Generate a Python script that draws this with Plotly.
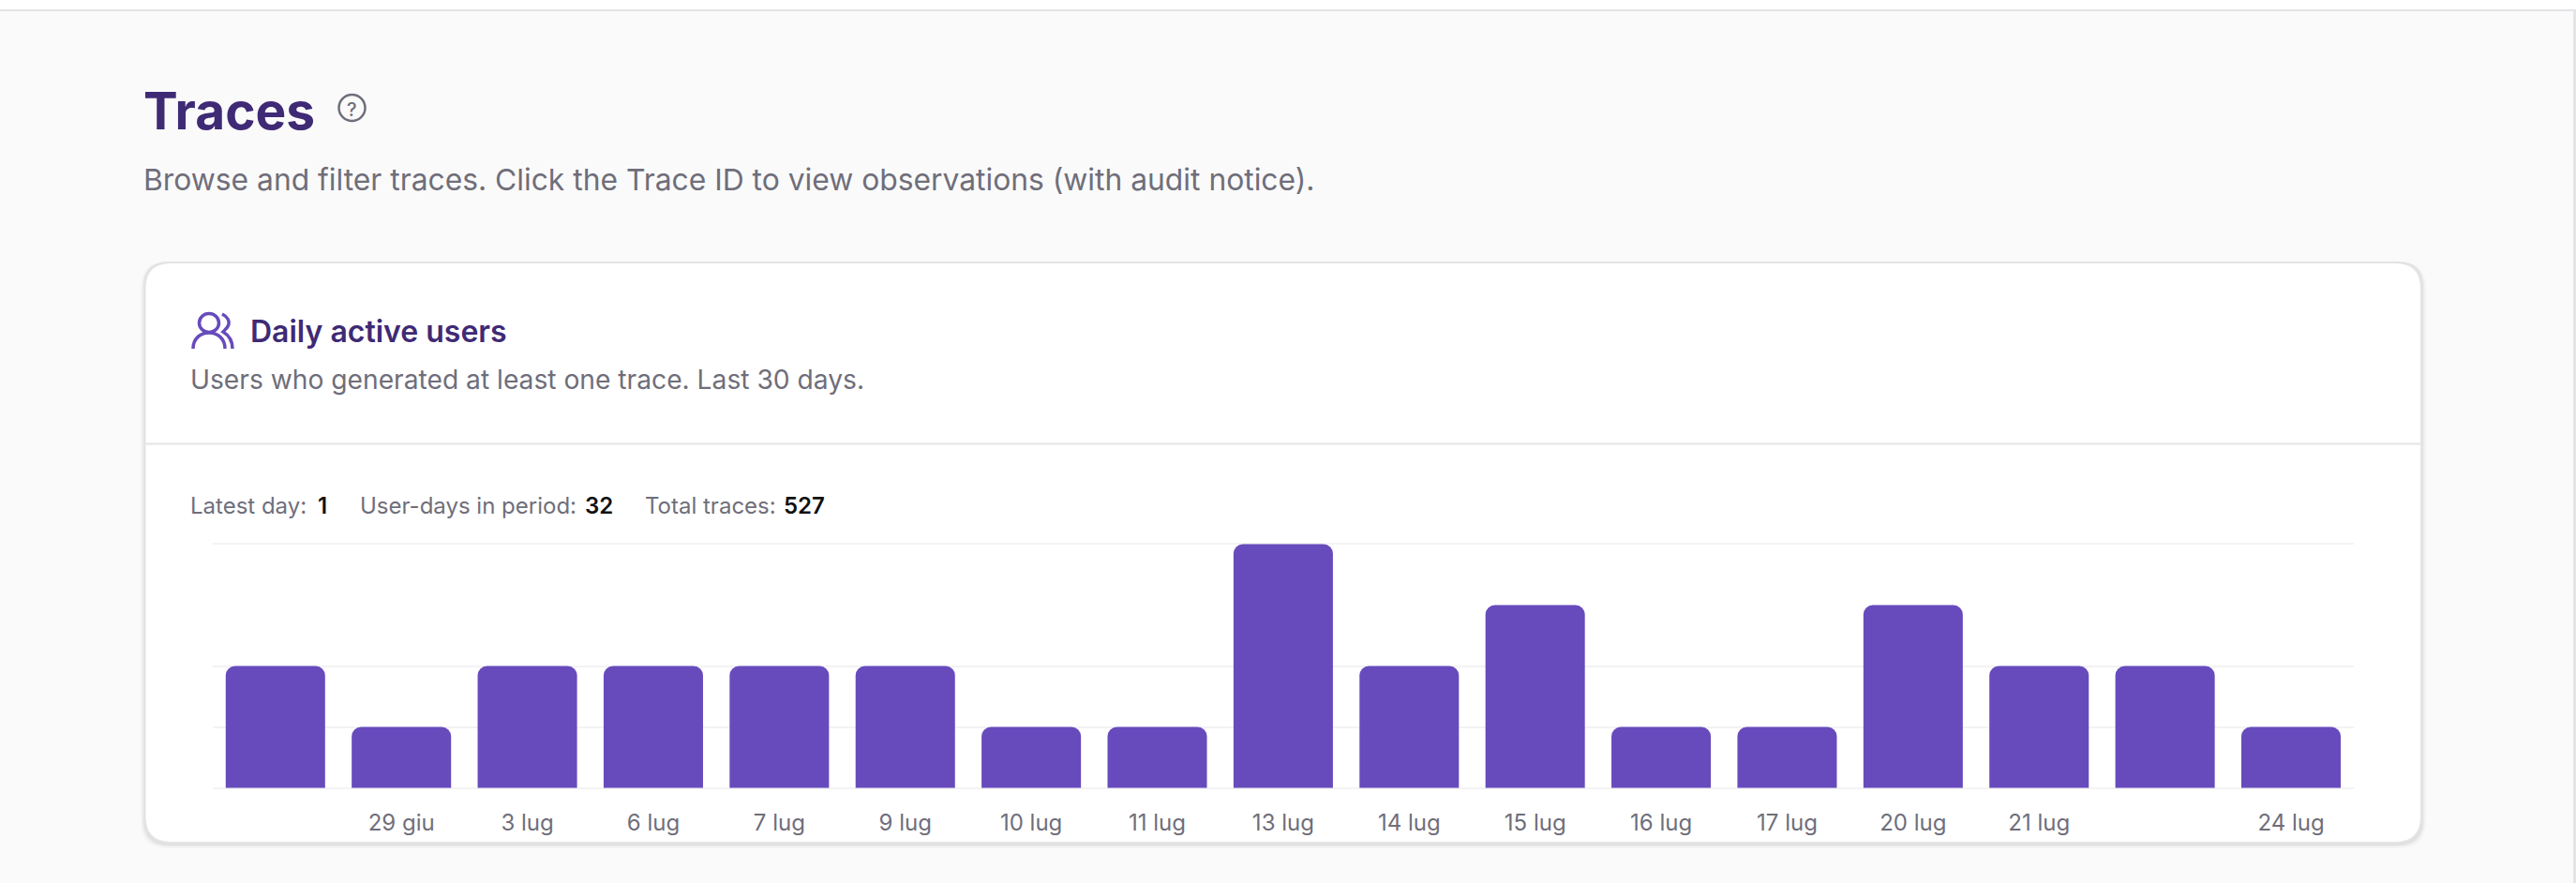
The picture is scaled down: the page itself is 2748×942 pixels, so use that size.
import plotly.graph_objects as go

W, H = 2748, 942

# ── Data ───────────────────────────────────────────────────────────────────────
days = ["", "29 giu", "3 lug", "6 lug", "7 lug", "9 lug", "10 lug", "11 lug", "13 lug",
        "14 lug", "15 lug", "16 lug", "17 lug", "20 lug", "21 lug", "", "24 lug"]
active_users = [2, 1, 2, 2, 2, 2, 1, 1, 4, 2, 3, 1, 1, 3, 2, 2, 1]
y_ticks = [0, 1, 2, 4]

FONT = "Inter"
PURPLE = "#674bbc"
DARK = "#3f2a75"
GREY = "#6f6e7a"
BORDER = "#e4e4e7"
GRID = "#f3f3f4"


def fx(x):
    return x / W


def fy(y):
    return 1 - y / H


def page_path(d):
    """Turn [cmd, x, y, x, y, ...] pixel lists into a paper-coordinate SVG path."""
    out = []
    for seg in d:
        cmd, nums = seg[0], seg[1:]
        pts = [f"{fx(nums[i]):.6f},{fy(nums[i + 1]):.6f}" for i in range(0, len(nums), 2)]
        out.append(cmd + " ".join(pts))
    return " ".join(out)


def round_rect(x0, y0, x1, y1, r):
    return page_path([
        ["M", x0 + r, y0], ["L", x1 - r, y0], ["Q", x1, y0, x1, y0 + r],
        ["L", x1, y1 - r], ["Q", x1, y1, x1 - r, y1], ["L", x0 + r, y1],
        ["Q", x0, y1, x0, y1 - r], ["L", x0, y0 + r], ["Q", x0, y0, x0 + r, y0],
    ]) + " Z"


shapes = []


def add_rect(x0, y0, x1, y1, color):
    shapes.append(dict(type="rect", xref="paper", yref="paper", layer="below",
                       x0=fx(x0), x1=fx(x1), y0=fy(y0), y1=fy(y1),
                       fillcolor=color, line_width=0))


def add_stroke(d, color, width):
    shapes.append(dict(type="path", xref="paper", yref="paper", layer="below", path=d,
                       line=dict(color=color, width=width), fillcolor="rgba(0,0,0,0)"))


# page chrome
add_rect(0, 0, W, 10, "#ffffff")
add_rect(0, 10, W, 12, BORDER)
add_rect(2745, 10, 2748, H, BORDER)

# card, soft shadow first
for grow, alpha in [(5, 0.02), (3.5, 0.03), (2, 0.05)]:
    shapes.append(dict(type="path", xref="paper", yref="paper", layer="below",
                       path=round_rect(154 - grow + 1, 279, 2584 + grow - 1, 900 + grow, 28),
                       fillcolor=f"rgba(0,0,0,{alpha})", line_width=0))
shapes.append(dict(type="path", xref="paper", yref="paper", layer="below",
                   path=round_rect(154.5, 280, 2583, 899, 28), fillcolor="#ffffff",
                   line=dict(color=BORDER, width=2)))
add_rect(155.5, 472.5, 2582, 474.5, BORDER)

# help icon
shapes.append(dict(type="circle", xref="paper", yref="paper", layer="below",
                   x0=fx(361.5), x1=fx(389.5), y0=fy(101), y1=fy(129),
                   line=dict(color=GREY, width=2.5), fillcolor="rgba(0,0,0,0)"))

# users icon
shapes.append(dict(type="circle", xref="paper", yref="paper", layer="below",
                   x0=fx(212.5), x1=fx(233.5), y0=fy(334.5), y1=fy(354.5),
                   line=dict(color=PURPLE, width=3.5), fillcolor="rgba(0,0,0,0)"))
add_stroke(page_path([["M", 206, 372], ["C", 206, 361, 214, 355, 223, 355],
                      ["C", 232, 355, 240, 361, 240, 372]]), PURPLE, 3.5)
add_stroke(page_path([["M", 237, 335], ["C", 243, 338, 245, 343, 244, 346],
                      ["C", 243, 350, 240, 352, 238, 354],
                      ["C", 243, 357, 248, 362, 248, 372]]), PURPLE, 3.5)


def label(x, baseline, text, size, color, weight=400):
    return dict(xref="paper", yref="paper", x=fx(x), y=fy(baseline + 0.29 * size),
                xanchor="left", yanchor="bottom", showarrow=False, borderpad=0, text=text,
                font=dict(family=FONT, size=size, color=color, weight=weight))


annotations = [
    label(152, 136, "Traces", 55, DARK, 700),
    label(369, 124, "?", 20, GREY, 500),
    label(152, 202.5, "Browse and filter traces. Click the Trace ID to view observations (with audit notice).", 31.8, GREY),
    label(266, 364.5, "Daily active users", 32, DARK, 600),
    label(201.5, 415, "Users who generated at least one trace. Last 30 days.", 28.2, GREY),
    label(202, 548, "Latest day:", 24, GREY),
    label(337.5, 548, "1", 24, "#111111", 600),
    label(383.5, 548, "User-days in period:", 24, GREY),
    label(623, 548, "32", 24, "#111111", 600),
    label(686.5, 548, "Total traces:", 24, GREY),
    label(835.5, 548, "527", 24, "#111111", 600),
]

x = list(range(len(days)))
fig = go.Figure(go.Bar(
    x=x, y=active_users,
    marker=dict(color=PURPLE, cornerradius=10, line_width=0),
    hovertemplate="%{y}<extra></extra>",
))
fig.update_layout(
    width=W, height=H, autosize=False,
    margin=dict(l=0, r=0, t=0, b=0),
    paper_bgcolor="#fafafa",
    plot_bgcolor="rgba(0,0,0,0)",
    bargap=0.211,
    showlegend=False,
    shapes=shapes,
    annotations=annotations,
    font=dict(family=FONT),
)
fig.update_xaxes(
    domain=[fx(226.6), fx(2511.2)],
    range=[-0.5, len(days) - 0.5],
    tickmode="array", tickvals=x, ticktext=days,
    tickfont=dict(family=FONT, size=24, color=GREY),
    ticks="", showgrid=False, showline=False, zeroline=False,
    ticklabelstandoff=18,
    automargin=False,
)
# range runs a hair past 0 and 4, plotly drops gridlines sitting right on the ends
fig.update_yaxes(
    domain=[fy(842.5), fy(578.5)],
    range=[-0.03, 4.03],
    tickmode="array", tickvals=y_ticks,
    showticklabels=False, ticks="",
    gridcolor=GRID, gridwidth=2,
    showline=False, zeroline=False,
    automargin=False,
)

fig.write_html(
    "out.html",
    config=dict(displayModeBar=False),
    post_script="document.body.style.margin='0';document.body.style.overflow='hidden';",
)
